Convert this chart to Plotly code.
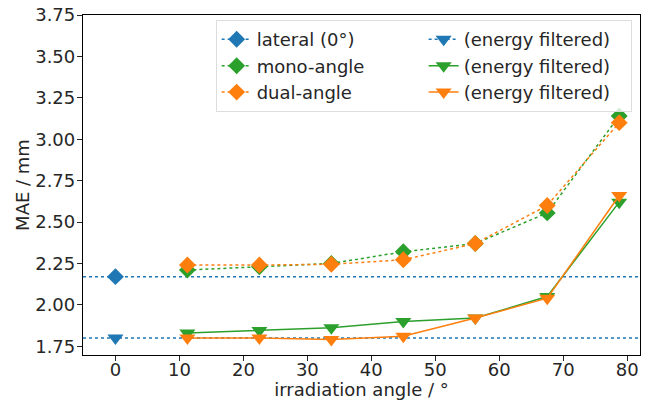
import plotly.graph_objects as go

angles = [11.25, 22.5, 33.75, 45.0, 56.25, 67.5, 78.75]
lateral_angle = [0.0]
lateral_mae = [2.17]
lateral_filtered = [1.80]
mono_mae = [2.21, 2.23, 2.25, 2.32, 2.37, 2.555, 3.14]
dual_mae = [2.24, 2.24, 2.245, 2.272, 2.37, 2.60, 3.10]
mono_filtered = [1.83, 1.845, 1.862, 1.90, 1.92, 2.05, 2.62]
dual_filtered = [1.80, 1.80, 1.79, 1.81, 1.92, 2.04, 2.66]

BLUE = "#1f77b4"
GREEN = "#2ca02c"
ORANGE = "#ff7f0e"
FONT = "DejaVu Sans"
TXT = "#262626"
FS = 18

fig = go.Figure()

def add(x, y, name, color, symbol, dash, size):
    fig.add_trace(go.Scatter(
        x=x, y=y, name=name, mode="lines+markers",
        line=dict(color=color, width=1.5, dash=dash),
        marker=dict(symbol=symbol, size=size, color=color),
    ))

add(lateral_angle, lateral_mae, "lateral (0°)", BLUE, "diamond", "dot", 13)
add(lateral_angle, lateral_filtered, "(energy filtered)", BLUE, "triangle-down", "dot", 14)
add(angles, mono_mae, "mono-angle", GREEN, "diamond", "dot", 13)
add(angles, mono_filtered, "(energy filtered)", GREEN, "triangle-down", "solid", 14)
add(angles, dual_mae, "dual-angle", ORANGE, "diamond", "dot", 13)
add(angles, dual_filtered, "(energy filtered)", ORANGE, "triangle-down", "solid", 14)

for v in (lateral_mae[0], lateral_filtered[0]):
    fig.add_shape(type="line", xref="paper", x0=0, x1=1, yref="y", y0=v, y1=v,
                  line=dict(color=BLUE, width=1.5, dash="dot"), layer="below")

axis_common = dict(
    showgrid=False, zeroline=False, showline=True, mirror=True, automargin=False,
    linecolor="black", linewidth=1.25, ticks="outside", ticklen=5,
    tickwidth=1, tickcolor=TXT, tickfont=dict(family=FONT, size=FS, color=TXT),
)

fig.update_layout(
    width=651, height=400,
    margin=dict(l=83, r=11, t=15, b=45),
    paper_bgcolor="white", plot_bgcolor="white",
    font=dict(family=FONT, size=FS, color=TXT),
    xaxis=dict(range=[-5.07, 82.0], tick0=0, dtick=10, ticklabelstandoff=-7,
               title=dict(text="irradiation angle / °", standoff=0,
                          font=dict(family=FONT, size=FS, color=TXT)),
               **axis_common),
    yaxis=dict(range=[1.697, 3.75], tick0=1.75, dtick=0.25, tickformat=".2f",
               ticklabelstandoff=-2,
               title=dict(text="MAE / mm", standoff=0,
                          font=dict(family=FONT, size=FS, color=TXT)),
               **axis_common),
    legend=dict(orientation="h", x=0.985, xanchor="right", y=0.985, yanchor="top",
                entrywidth=162, entrywidthmode="pixels",
                bgcolor="rgba(255,255,255,0.8)", bordercolor="#dddddd", borderwidth=1,
                font=dict(family=FONT, size=FS, color=TXT)),
    showlegend=True,
)

fig.write_html("out.html", config={"displayModeBar": False},
               post_script="document.body.style.margin='0px';")
